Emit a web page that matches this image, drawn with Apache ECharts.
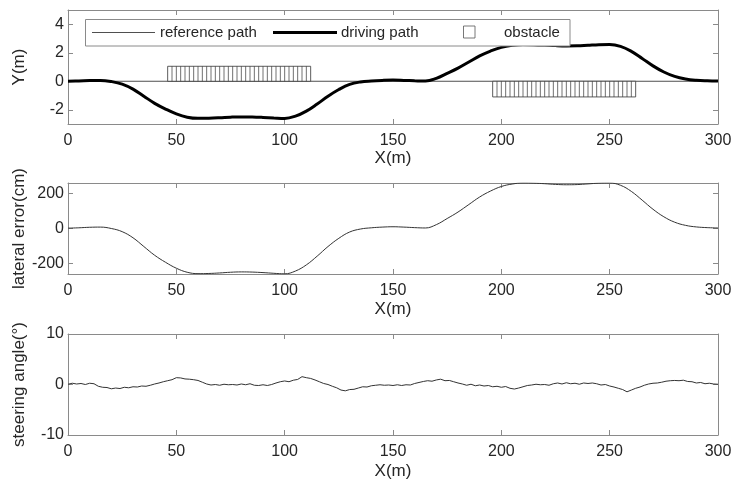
<!DOCTYPE html>
<html>
<head>
<meta charset="utf-8">
<script src="https://cdn.jsdelivr.net/npm/echarts@6/dist/echarts.min.js"></script>
<style>
  html, body { margin: 0; padding: 0; background: #fff; }
  #chart { width: 734px; height: 483px; }
</style>
</head>
<body>
<div id="chart"></div>
<script>
// X positions along the road (m)
const pathX = [0,5,10,15,20,25,30,35,40,45,50,55,60,65,70,75,80,85,90,95,100,105,110,115,120,125,130,135,140,145,150,155,160,165,170,175,180,185,190,195,200,205,210,215,220,225,230,235,240,245,250,255,260,265,270,275,280,285,290,295,300];

// Vehicle lateral position (m)
const drivingY = [0,0.02,0.05,0.06,-0.02,-0.2,-0.55,-1.05,-1.55,-1.95,-2.29,-2.52,-2.6,-2.59,-2.56,-2.52,-2.5,-2.51,-2.54,-2.58,-2.61,-2.45,-2.1,-1.6,-1.05,-0.58,-0.22,-0.05,0.02,0.06,0.08,0.06,0.03,0.01,0.2,0.55,0.92,1.35,1.78,2.12,2.38,2.52,2.58,2.57,2.54,2.5,2.48,2.49,2.53,2.57,2.58,2.45,2.1,1.6,1.08,0.65,0.34,0.16,0.07,0.03,0.01];

// Lateral error against the reference line (cm)
const lateralError = [0,2,5,6,-2,-20,-55,-105,-155,-195,-229,-252,-260,-259,-256,-252,-250,-251,-254,-258,-261,-245,-210,-160,-105,-58,-22,-5,2,6,8,6,3,1,20,55,92,135,178,212,238,252,258,257,254,250,248,249,253,257,258,245,210,160,108,65,34,16,7,3,1];

// Reference path (m)
const referenceX = [0, 300];
const referenceY = [0, 0];

// Obstacles: [xStart, xEnd, yBottom, yTop] (m)
const obstacles = [
  [46, 112, 0, 1.05],
  [196, 262, -1.1, 0]
];

// Steering angle samples (deg), every 2 m
const steerX = [0,2,4,6,8,10,12,14,16,18,20,22,24,26,28,30,32,34,36,38,40,42,44,46,48,50,52,54,56,58,60,62,64,66,68,70,72,74,76,78,80,82,84,86,88,90,92,94,96,98,100,102,104,106,108,110,112,114,116,118,120,122,124,126,128,130,132,134,136,138,140,142,144,146,148,150,152,154,156,158,160,162,164,166,168,170,172,174,176,178,180,182,184,186,188,190,192,194,196,198,200,202,204,206,208,210,212,214,216,218,220,222,224,226,228,230,232,234,236,238,240,242,244,246,248,250,252,254,256,258,260,262,264,266,268,270,272,274,276,278,280,282,284,286,288,290,292,294,296,298,300];
const steerAngle = [0.05,0.25,0.1,0.2,0.0,0.25,0.15,-0.35,-0.55,-0.6,-0.85,-0.7,-0.8,-0.55,-0.65,-0.45,-0.5,-0.3,-0.35,-0.15,0.1,0.3,0.55,0.75,0.95,1.35,1.3,1.1,1.05,0.95,0.8,0.45,0.1,-0.1,0.0,-0.15,0.05,-0.05,0.0,-0.1,0.1,-0.05,0.15,-0.15,-0.2,-0.05,-0.2,0.0,0.3,0.55,0.7,0.55,0.85,1.0,1.55,1.35,1.2,0.9,0.55,0.2,0.0,-0.35,-0.65,-1.1,-1.25,-1.0,-0.95,-0.7,-0.45,-0.5,-0.25,-0.15,-0.05,-0.15,-0.1,-0.2,-0.05,-0.2,-0.05,-0.1,0.2,0.4,0.6,0.75,0.65,0.9,1.05,0.75,0.8,0.55,0.3,0.1,-0.15,0.05,-0.25,-0.1,-0.3,-0.2,-0.45,-0.35,-0.55,-0.4,-0.75,-0.9,-0.7,-0.45,-0.2,-0.1,0.05,-0.05,0.0,-0.15,0.15,0.3,0.1,0.35,0.15,0.25,0.05,0.3,0.2,0.3,0.15,-0.1,0.0,-0.3,-0.5,-0.75,-1.0,-1.45,-1.1,-0.75,-0.5,-0.15,0.1,0.25,0.3,0.45,0.65,0.75,0.8,0.75,0.85,0.6,0.55,0.3,0.4,0.15,0.25,0.1,0.05];

// Axis labels
const xName = 'X(m)';
const yNames = ['Y(m)', 'lateral error(cm)', 'steering angle(\u00b0)'];
const legendNames = ['reference path', 'driving path', 'obstacle'];

const FONT = 'Arial, "Liberation Sans", sans-serif';
const TEXT = '#262626';
const AXIS = '#8a8a8a';

const zip = (xs, ys) => xs.map((x, i) => [x, ys[i]]);

const gridBase = { left: 68, right: 16, containLabel: false, outerBoundsMode: 'none' };
const grids = [
  Object.assign({}, gridBase, { top: 10, height: 114 }),
  Object.assign({}, gridBase, { top: 183, height: 91 }),
  Object.assign({}, gridBase, { top: 334, height: 101 })
];

function xAxes(gi, labelMargin, nameGap) {
  const common = {
    type: 'value', gridIndex: gi, min: 0, max: 300, interval: 50,
    splitLine: { show: false },
    axisLine: { show: true, onZero: false, lineStyle: { color: AXIS, width: 1 } },
    axisTick: { show: true, inside: true, length: 5, lineStyle: { color: AXIS } }
  };
  return [
    Object.assign({}, common, {
      position: 'bottom',
      name: xName, nameLocation: 'middle', nameGap: nameGap, nameMoveOverlap: false,
      nameTextStyle: { color: TEXT, fontSize: 17, fontFamily: FONT },
      axisLabel: { color: TEXT, fontSize: 16, fontFamily: FONT, margin: labelMargin }
    }),
    Object.assign({}, common, { position: 'top', axisLabel: { show: false } })
  ];
}

function yAxes(gi, min, max, ticks, name) {
  const common = {
    type: 'value', gridIndex: gi, min: min, max: max,
    splitLine: { show: false },
    axisLine: { show: true, onZero: false, lineStyle: { color: AXIS, width: 1 } },
    axisTick: { show: true, inside: true, length: 5, customValues: ticks, lineStyle: { color: AXIS } }
  };
  return [
    Object.assign({}, common, {
      position: 'left',
      name: name, nameLocation: 'middle', nameGap: 40, nameMoveOverlap: false,
      nameTextStyle: { color: TEXT, fontSize: 17, fontFamily: FONT },
      axisLabel: { color: TEXT, fontSize: 16, fontFamily: FONT, margin: 4, customValues: ticks }
    }),
    Object.assign({}, common, { position: 'right', axisLabel: { show: false } })
  ];
}

const HATCH_STEP = 2; // m between hatch lines

function renderObstacle(params, api) {
  const x0 = api.value(0), x1 = api.value(1), y0 = api.value(2), y1 = api.value(3);
  const pA = api.coord([x0, y1]);
  const pB = api.coord([x1, y0]);
  const children = [{
    type: 'rect',
    shape: { x: pA[0], y: pA[1], width: pB[0] - pA[0], height: pB[1] - pA[1] },
    style: { fill: '#fff', stroke: '#333', lineWidth: 0.8 }
  }];
  for (let x = x0 + HATCH_STEP; x < x1 - 0.01; x += HATCH_STEP) {
    const px = api.coord([x, y0])[0];
    children.push({
      type: 'line',
      shape: { x1: px, y1: pA[1], x2: px, y2: pB[1] },
      style: { stroke: '#333', lineWidth: 0.7 }
    });
  }
  return { type: 'group', children: children };
}

const legendY = 32.5;
const legendGraphic = [
  { type: 'rect', shape: { x: 85.5, y: 19.5, width: 484.5, height: 26.5 },
    style: { fill: '#fff', stroke: '#8a8a8a', lineWidth: 1 }, z: 100 },
  { type: 'line', shape: { x1: 92, y1: legendY, x2: 155, y2: legendY },
    style: { stroke: '#222', lineWidth: 0.8 }, z: 101 },
  { type: 'text', x: 160, y: legendY, z: 101,
    style: { text: legendNames[0], fill: TEXT, font: '15px ' + FONT, textVerticalAlign: 'middle' } },
  { type: 'line', shape: { x1: 273, y1: legendY, x2: 337, y2: legendY },
    style: { stroke: '#000', lineWidth: 3 }, z: 101 },
  { type: 'text', x: 341, y: legendY, z: 101,
    style: { text: legendNames[1], fill: TEXT, font: '15px ' + FONT, textVerticalAlign: 'middle' } },
  { type: 'rect', shape: { x: 463.5, y: 26, width: 11.5, height: 12 },
    style: { fill: '#fff', stroke: '#555', lineWidth: 0.8 }, z: 101 },
  { type: 'text', x: 504, y: legendY, z: 101,
    style: { text: legendNames[2], fill: TEXT, font: '15px ' + FONT, textVerticalAlign: 'middle' } }
];

const option = {
  backgroundColor: '#fff',
  animation: false,
  grid: grids,
  xAxis: [].concat(xAxes(0, 9, 26), xAxes(1, 9, 27), xAxes(2, 9, 28)),
  yAxis: [].concat(
    yAxes(0, -3, 5, [-2, 0, 2, 4], yNames[0]),
    yAxes(1, -262, 258, [-200, 0, 200], yNames[1]),
    yAxes(2, -10, 10, [-10, 0, 10], yNames[2])
  ),
  graphic: legendGraphic,
  series: [
    {
      name: legendNames[0], type: 'line', xAxisIndex: 0, yAxisIndex: 0,
      data: zip(referenceX, referenceY), symbol: 'none',
      lineStyle: { color: '#222', width: 0.8 }, z: 3
    },
    {
      name: legendNames[2], type: 'custom', xAxisIndex: 0, yAxisIndex: 0,
      renderItem: renderObstacle, data: obstacles,
      encode: { x: [0, 1], y: [2, 3] }, z: 4
    },
    {
      name: legendNames[1], type: 'line', xAxisIndex: 0, yAxisIndex: 0,
      data: zip(pathX, drivingY), symbol: 'none', smooth: 0.4,
      lineStyle: { color: '#000', width: 3 }, z: 5
    },
    {
      name: yNames[1], type: 'line', xAxisIndex: 2, yAxisIndex: 2,
      data: zip(pathX, lateralError), symbol: 'none', smooth: 0.4,
      lineStyle: { color: '#333', width: 1 }
    },
    {
      name: yNames[2], type: 'line', xAxisIndex: 4, yAxisIndex: 4,
      data: zip(steerX, steerAngle), symbol: 'none',
      lineStyle: { color: '#333', width: 1 }
    }
  ]
};

const chart = echarts.init(document.getElementById('chart'), null, { renderer: 'canvas' });
chart.setOption(option);
</script>
</body>
</html>
